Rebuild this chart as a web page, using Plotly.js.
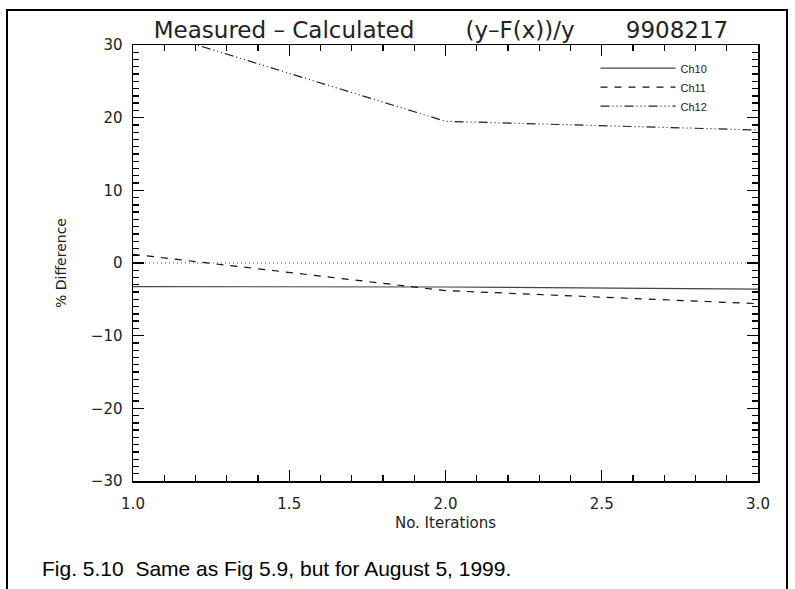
<!DOCTYPE html>
<html>
<head>
<meta charset="utf-8">
<script src="https://cdn.plot.ly/plotly-3.0.1.min.js"></script>
<style>html,body{margin:0;padding:0;background:#fff;}#chart{width:795px;height:589px;}</style>
</head>
<body>
<div id="chart"></div>
<script>
// Data
const iterations = [1.0, 2.0, 3.0];
const ch10 = [-3.25, -3.3, -3.6];
const ch11 = [1.2, -3.8, -5.6];
const ch12 = [32.7, 19.5, 18.3];
const seriesNames = ['Ch10', 'Ch11', 'Ch12'];
const zeroRef = [0, 0];
const zeroX = [1.0, 3.0];
const xRange = [1.0, 3.0];
const yRange = [-30, 30];

const F = 'DejaVu Sans, sans-serif';
const lineFont = {family: F, size: 14, color: '#222'};
const G = '\u00a0';

const traces = [
  {x: iterations, y: ch10, name: seriesNames[0], mode: 'lines',
   line: {color: '#444', width: 1.2, dash: 'solid'}},
  {x: iterations, y: ch11, name: seriesNames[1], mode: 'lines',
   line: {color: '#111', width: 1.2, dash: '7px,7px'}},
  {x: iterations, y: ch12, name: seriesNames[2], mode: 'lines',
   line: {color: '#222', width: 1.2, dash: '9px,3px,1px,3px,1px,3px,1px,3px'}},
  {x: zeroX, y: zeroRef, mode: 'lines', showlegend: false, hoverinfo: 'skip',
   line: {color: '#555', width: 1, dash: '1px,3px'}}
];

const layout = {
  width: 795, height: 589,
  margin: {l: 133, r: 37, t: 45, b: 108},
  paper_bgcolor: '#fff', plot_bgcolor: '#fff',
  font: lineFont,
  title: {text: 'Measured' + G + '\u2013' + G + 'Calculated' + G.repeat(7) + '(y\u2013F(x))/y' + G.repeat(7) + '9908217',
          x: (441 - 0) / 795, xanchor: 'center', y: 1 - 30/589, yanchor: 'middle',
          font: {family: F, size: 23, color: '#222'}},
  xaxis: {range: xRange, tickmode: 'linear', tick0: 1, dtick: 0.5, tickformat: '.1f',
          ticks: 'inside', ticklen: 11, tickwidth: 1.3, tickcolor: '#000',
          showline: true, linecolor: '#000', linewidth: 1.5, mirror: 'ticks',
          showgrid: false, zeroline: false, ticklabelstandoff: 8,
          minor: {tickmode: 'linear', dtick: 0.1, ticks: 'inside', ticklen: 6, tickcolor: '#000', tickwidth: 1.3, showgrid: false},
          tickfont: {family: F, size: 15, color: '#222'},
          title: {text: 'No. Iterations', standoff: 6,
                  font: {family: F, size: 15, color: '#222'}}},
  yaxis: {range: yRange, tickmode: 'linear', tick0: 0, dtick: 10,
          ticks: 'inside', ticklen: 11, tickwidth: 1.3, tickcolor: '#000',
          showline: true, linecolor: '#000', linewidth: 1.5, mirror: 'ticks',
          showgrid: false, zeroline: false, ticklabelstandoff: 6,
          minor: {tickmode: 'linear', dtick: 1, ticks: 'inside', ticklen: 6, tickcolor: '#000', tickwidth: 1.3, showgrid: false},
          tickfont: {family: F, size: 15, color: '#222'},
          title: {text: '% Difference', standoff: 21,
                  font: {family: F, size: 14, color: '#222'}}},
  showlegend: true,
  legend: {x: 0.74, y: 0.98, xanchor: 'left', yanchor: 'top',
           bgcolor: 'rgba(0,0,0,0)', borderwidth: 0, tracegroupgap: 0,
           itemwidth: 75,
           font: {family: 'Liberation Sans, Arial, sans-serif', size: 11, color: '#222'}},
  shapes: [
    {type: 'rect', xref: 'paper', yref: 'paper',
     x0: (7-133)/625, x1: (787-133)/625, y0: -0.3, y1: (481-10)/436,
     line: {color: '#000', width: 2}, fillcolor: 'rgba(0,0,0,0)', layer: 'above'}
  ],
  annotations: [
    {xref: 'paper', yref: 'paper', x: (40-133)/625, y: (481-568)/436,
     xanchor: 'left', yanchor: 'middle', showarrow: false,
     text: 'Fig. 5.10' + G + G + 'Same as Fig 5.9, but for August 5, 1999.',
     font: {family: 'Liberation Sans, Arial, sans-serif', size: 21, color: '#000'}}
  ]
};

Plotly.newPlot('chart', traces, layout, {staticPlot: true, displayModeBar: false});
</script>
</body>
</html>
